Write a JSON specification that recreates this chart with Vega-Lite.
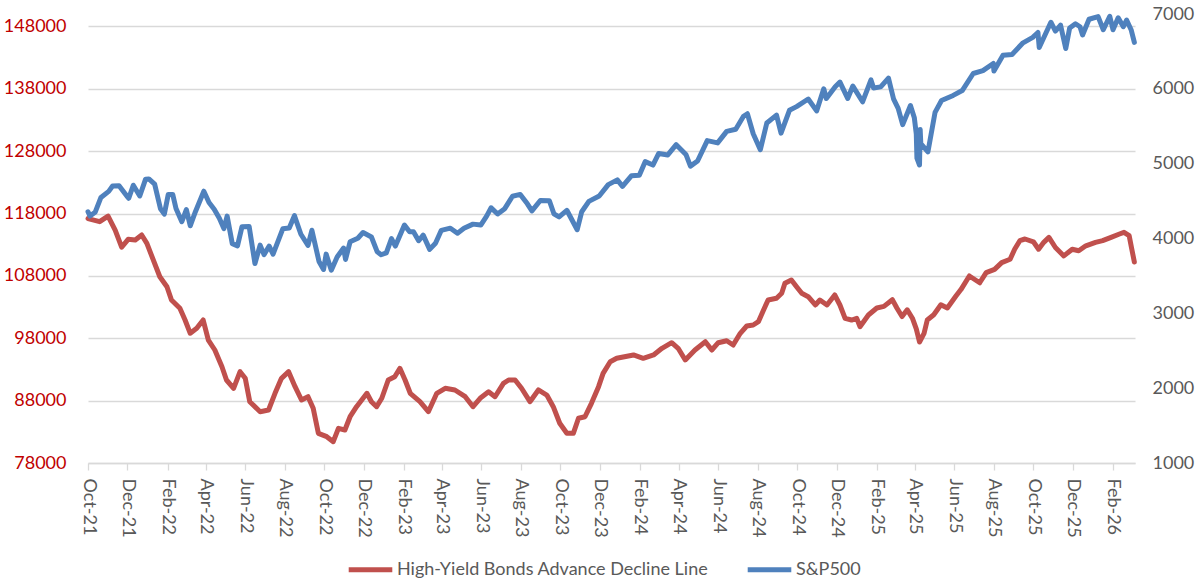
{
"$schema": "https://vega.github.io/schema/vega-lite/v6.json",
"width": 1047, "height": 449,
"autosize": {"type": "none"},
"padding": {"left": 88, "top": 14, "right": 65, "bottom": 122},
"background": "white",
"config": {"view": {"stroke": null}, "font": "Lato"},
"datasets": {
"hy": [
{"date":"2021-10-01","series":"HY","value":117200},
{"date":"2021-10-19","series":"HY","value":116700},
{"date":"2021-11-01","series":"HY","value":117600},
{"date":"2021-11-12","series":"HY","value":115360},
{"date":"2021-11-22","series":"HY","value":112600},
{"date":"2021-12-02","series":"HY","value":113870},
{"date":"2021-12-13","series":"HY","value":113760},
{"date":"2021-12-23","series":"HY","value":114560},
{"date":"2021-12-31","series":"HY","value":113230},
{"date":"2022-01-07","series":"HY","value":111350},
{"date":"2022-01-20","series":"HY","value":107870},
{"date":"2022-01-31","series":"HY","value":106270},
{"date":"2022-02-07","series":"HY","value":104140},
{"date":"2022-02-20","series":"HY","value":102810},
{"date":"2022-02-28","series":"HY","value":100930},
{"date":"2022-03-08","series":"HY","value":98800},
{"date":"2022-03-18","series":"HY","value":99600},
{"date":"2022-03-28","series":"HY","value":100930},
{"date":"2022-04-05","series":"HY","value":97720},
{"date":"2022-04-15","series":"HY","value":96120},
{"date":"2022-04-26","series":"HY","value":93440},
{"date":"2022-05-03","series":"HY","value":91310},
{"date":"2022-05-14","series":"HY","value":89980},
{"date":"2022-05-24","series":"HY","value":92640},
{"date":"2022-06-01","series":"HY","value":91580},
{"date":"2022-06-08","series":"HY","value":87830},
{"date":"2022-06-24","series":"HY","value":86230},
{"date":"2022-07-07","series":"HY","value":86500},
{"date":"2022-07-17","series":"HY","value":89180},
{"date":"2022-07-27","series":"HY","value":91580},
{"date":"2022-08-07","series":"HY","value":92640},
{"date":"2022-08-17","series":"HY","value":90240},
{"date":"2022-08-27","series":"HY","value":88100},
{"date":"2022-09-06","series":"HY","value":88630},
{"date":"2022-09-14","series":"HY","value":86770},
{"date":"2022-09-22","series":"HY","value":82760},
{"date":"2022-10-05","series":"HY","value":82220},
{"date":"2022-10-15","series":"HY","value":81420},
{"date":"2022-10-23","series":"HY","value":83560},
{"date":"2022-11-02","series":"HY","value":83290},
{"date":"2022-11-10","series":"HY","value":85420},
{"date":"2022-11-20","series":"HY","value":87030},
{"date":"2022-11-28","series":"HY","value":88100},
{"date":"2022-12-06","series":"HY","value":89180},
{"date":"2022-12-13","series":"HY","value":87830},
{"date":"2022-12-21","series":"HY","value":87030},
{"date":"2022-12-29","series":"HY","value":88380},
{"date":"2023-01-08","series":"HY","value":91310},
{"date":"2023-01-18","series":"HY","value":91840},
{"date":"2023-01-26","series":"HY","value":93190},
{"date":"2023-02-03","series":"HY","value":91310},
{"date":"2023-02-11","series":"HY","value":89180},
{"date":"2023-02-26","series":"HY","value":87830},
{"date":"2023-03-11","series":"HY","value":86230},
{"date":"2023-03-24","series":"HY","value":89180},
{"date":"2023-04-06","series":"HY","value":89980},
{"date":"2023-04-21","series":"HY","value":89710},
{"date":"2023-05-07","series":"HY","value":88630},
{"date":"2023-05-19","series":"HY","value":87030},
{"date":"2023-05-30","series":"HY","value":88380},
{"date":"2023-06-12","series":"HY","value":89430},
{"date":"2023-06-22","series":"HY","value":88630},
{"date":"2023-07-05","series":"HY","value":90780},
{"date":"2023-07-13","series":"HY","value":91310},
{"date":"2023-07-23","series":"HY","value":91310},
{"date":"2023-08-02","series":"HY","value":89980},
{"date":"2023-08-15","series":"HY","value":87830},
{"date":"2023-08-28","series":"HY","value":89710},
{"date":"2023-09-10","series":"HY","value":88900},
{"date":"2023-09-20","series":"HY","value":87030},
{"date":"2023-09-30","series":"HY","value":84370},
{"date":"2023-10-11","series":"HY","value":82760},
{"date":"2023-10-21","series":"HY","value":82760},
{"date":"2023-10-29","series":"HY","value":85170},
{"date":"2023-11-08","series":"HY","value":85420},
{"date":"2023-11-18","series":"HY","value":87570},
{"date":"2023-11-29","series":"HY","value":90240},
{"date":"2023-12-06","series":"HY","value":92380},
{"date":"2023-12-17","series":"HY","value":94240},
{"date":"2023-12-27","series":"HY","value":94790},
{"date":"2024-01-22","series":"HY","value":95320},
{"date":"2024-02-06","series":"HY","value":94790},
{"date":"2024-02-22","series":"HY","value":95320},
{"date":"2024-03-06","series":"HY","value":96390},
{"date":"2024-03-21","series":"HY","value":97290},
{"date":"2024-03-31","series":"HY","value":96390},
{"date":"2024-04-11","series":"HY","value":94520},
{"date":"2024-04-26","series":"HY","value":96120},
{"date":"2024-05-12","series":"HY","value":97450},
{"date":"2024-05-22","series":"HY","value":96120},
{"date":"2024-06-01","series":"HY","value":97290},
{"date":"2024-06-14","series":"HY","value":97610},
{"date":"2024-06-24","series":"HY","value":96920},
{"date":"2024-07-05","series":"HY","value":98800},
{"date":"2024-07-15","series":"HY","value":99970},
{"date":"2024-07-25","series":"HY","value":100130},
{"date":"2024-08-02","series":"HY","value":100660},
{"date":"2024-08-10","series":"HY","value":102540},
{"date":"2024-08-17","series":"HY","value":104140},
{"date":"2024-08-30","series":"HY","value":104410},
{"date":"2024-09-07","series":"HY","value":105210},
{"date":"2024-09-12","series":"HY","value":106820},
{"date":"2024-09-22","series":"HY","value":107350},
{"date":"2024-09-30","series":"HY","value":106270},
{"date":"2024-10-08","series":"HY","value":105210},
{"date":"2024-10-18","series":"HY","value":104670},
{"date":"2024-10-29","series":"HY","value":103340},
{"date":"2024-11-05","series":"HY","value":104140},
{"date":"2024-11-16","series":"HY","value":103340},
{"date":"2024-11-28","series":"HY","value":104940},
{"date":"2024-12-06","series":"HY","value":103340},
{"date":"2024-12-14","series":"HY","value":101200},
{"date":"2024-12-24","series":"HY","value":100930},
{"date":"2025-01-01","series":"HY","value":101200},
{"date":"2025-01-06","series":"HY","value":99860},
{"date":"2025-01-19","series":"HY","value":101730},
{"date":"2025-02-01","series":"HY","value":102860},
{"date":"2025-02-12","series":"HY","value":103110},
{"date":"2025-02-25","series":"HY","value":104190},
{"date":"2025-03-04","series":"HY","value":102860},
{"date":"2025-03-12","series":"HY","value":101490},
{"date":"2025-03-20","series":"HY","value":102570},
{"date":"2025-03-28","series":"HY","value":101220},
{"date":"2025-04-03","series":"HY","value":99500},
{"date":"2025-04-08","series":"HY","value":97400},
{"date":"2025-04-15","series":"HY","value":98800},
{"date":"2025-04-20","series":"HY","value":100930},
{"date":"2025-04-30","series":"HY","value":101770},
{"date":"2025-05-11","series":"HY","value":103380},
{"date":"2025-05-21","series":"HY","value":102860},
{"date":"2025-06-03","series":"HY","value":104730},
{"date":"2025-06-11","series":"HY","value":105810},
{"date":"2025-06-24","series":"HY","value":107990},
{"date":"2025-07-10","series":"HY","value":106900},
{"date":"2025-07-20","series":"HY","value":108520},
{"date":"2025-08-02","series":"HY","value":109050},
{"date":"2025-08-13","series":"HY","value":110140},
{"date":"2025-08-26","series":"HY","value":110670},
{"date":"2025-09-02","series":"HY","value":112280},
{"date":"2025-09-10","series":"HY","value":113650},
{"date":"2025-09-18","series":"HY","value":113920},
{"date":"2025-10-01","series":"HY","value":113470},
{"date":"2025-10-09","series":"HY","value":112280},
{"date":"2025-10-17","series":"HY","value":113380},
{"date":"2025-10-25","series":"HY","value":114180},
{"date":"2025-11-04","series":"HY","value":112560},
{"date":"2025-11-17","series":"HY","value":111210},
{"date":"2025-11-30","series":"HY","value":112280},
{"date":"2025-12-10","series":"HY","value":112030},
{"date":"2025-12-21","series":"HY","value":112830},
{"date":"2026-01-05","series":"HY","value":113380},
{"date":"2026-01-16","series":"HY","value":113650},
{"date":"2026-01-29","series":"HY","value":114180},
{"date":"2026-02-11","series":"HY","value":114720},
{"date":"2026-02-18","series":"HY","value":114990},
{"date":"2026-02-26","series":"HY","value":114450},
{"date":"2026-03-02","series":"HY","value":112320},
{"date":"2026-03-06","series":"HY","value":110230}
],
"spx": [
{"date":"2021-10-01","series":"SPX","value":4357},
{"date":"2021-10-04","series":"SPX","value":4300},
{"date":"2021-10-12","series":"SPX","value":4350},
{"date":"2021-10-21","series":"SPX","value":4549},
{"date":"2021-11-02","series":"SPX","value":4630},
{"date":"2021-11-08","series":"SPX","value":4701},
{"date":"2021-11-18","series":"SPX","value":4704},
{"date":"2021-11-30","series":"SPX","value":4567},
{"date":"2021-12-03","series":"SPX","value":4538},
{"date":"2021-12-10","series":"SPX","value":4712},
{"date":"2021-12-20","series":"SPX","value":4568},
{"date":"2021-12-29","series":"SPX","value":4793},
{"date":"2022-01-03","series":"SPX","value":4796},
{"date":"2022-01-12","series":"SPX","value":4726},
{"date":"2022-01-21","series":"SPX","value":4398},
{"date":"2022-01-27","series":"SPX","value":4326},
{"date":"2022-02-02","series":"SPX","value":4589},
{"date":"2022-02-09","series":"SPX","value":4587},
{"date":"2022-02-14","series":"SPX","value":4401},
{"date":"2022-02-23","series":"SPX","value":4225},
{"date":"2022-03-02","series":"SPX","value":4386},
{"date":"2022-03-08","series":"SPX","value":4170},
{"date":"2022-03-16","series":"SPX","value":4358},
{"date":"2022-03-29","series":"SPX","value":4632},
{"date":"2022-04-06","series":"SPX","value":4481},
{"date":"2022-04-14","series":"SPX","value":4392},
{"date":"2022-04-22","series":"SPX","value":4272},
{"date":"2022-04-29","series":"SPX","value":4132},
{"date":"2022-05-04","series":"SPX","value":4300},
{"date":"2022-05-12","series":"SPX","value":3930},
{"date":"2022-05-20","series":"SPX","value":3901},
{"date":"2022-05-27","series":"SPX","value":4158},
{"date":"2022-06-07","series":"SPX","value":4161},
{"date":"2022-06-16","series":"SPX","value":3666},
{"date":"2022-06-24","series":"SPX","value":3912},
{"date":"2022-06-30","series":"SPX","value":3785},
{"date":"2022-07-08","series":"SPX","value":3899},
{"date":"2022-07-14","series":"SPX","value":3790},
{"date":"2022-07-29","series":"SPX","value":4130},
{"date":"2022-08-08","series":"SPX","value":4140},
{"date":"2022-08-16","series":"SPX","value":4305},
{"date":"2022-08-26","series":"SPX","value":4057},
{"date":"2022-09-06","series":"SPX","value":3908},
{"date":"2022-09-12","series":"SPX","value":4110},
{"date":"2022-09-23","series":"SPX","value":3693},
{"date":"2022-09-30","series":"SPX","value":3586},
{"date":"2022-10-04","series":"SPX","value":3791},
{"date":"2022-10-12","series":"SPX","value":3577},
{"date":"2022-10-21","series":"SPX","value":3752},
{"date":"2022-10-31","series":"SPX","value":3872},
{"date":"2022-11-03","series":"SPX","value":3720},
{"date":"2022-11-10","series":"SPX","value":3956},
{"date":"2022-11-22","series":"SPX","value":4003},
{"date":"2022-11-30","series":"SPX","value":4080},
{"date":"2022-12-13","series":"SPX","value":4020},
{"date":"2022-12-22","series":"SPX","value":3822},
{"date":"2022-12-28","series":"SPX","value":3783},
{"date":"2023-01-05","series":"SPX","value":3808},
{"date":"2023-01-13","series":"SPX","value":3999},
{"date":"2023-01-19","series":"SPX","value":3899},
{"date":"2023-02-02","series":"SPX","value":4179},
{"date":"2023-02-10","series":"SPX","value":4090},
{"date":"2023-02-16","series":"SPX","value":4090},
{"date":"2023-02-24","series":"SPX","value":3970},
{"date":"2023-03-03","series":"SPX","value":4045},
{"date":"2023-03-13","series":"SPX","value":3855},
{"date":"2023-03-22","series":"SPX","value":3937},
{"date":"2023-03-31","series":"SPX","value":4109},
{"date":"2023-04-14","series":"SPX","value":4138},
{"date":"2023-04-25","series":"SPX","value":4071},
{"date":"2023-05-05","series":"SPX","value":4136},
{"date":"2023-05-19","series":"SPX","value":4192},
{"date":"2023-05-31","series":"SPX","value":4180},
{"date":"2023-06-09","series":"SPX","value":4299},
{"date":"2023-06-16","series":"SPX","value":4410},
{"date":"2023-06-26","series":"SPX","value":4328},
{"date":"2023-07-07","series":"SPX","value":4399},
{"date":"2023-07-19","series":"SPX","value":4565},
{"date":"2023-07-31","series":"SPX","value":4589},
{"date":"2023-08-11","series":"SPX","value":4464},
{"date":"2023-08-18","series":"SPX","value":4370},
{"date":"2023-08-31","series":"SPX","value":4508},
{"date":"2023-09-14","series":"SPX","value":4505},
{"date":"2023-09-21","series":"SPX","value":4330},
{"date":"2023-09-29","series":"SPX","value":4288},
{"date":"2023-10-11","series":"SPX","value":4377},
{"date":"2023-10-27","series":"SPX","value":4117},
{"date":"2023-11-03","series":"SPX","value":4358},
{"date":"2023-11-14","series":"SPX","value":4496},
{"date":"2023-11-30","series":"SPX","value":4568},
{"date":"2023-12-14","series":"SPX","value":4720},
{"date":"2023-12-28","series":"SPX","value":4783},
{"date":"2024-01-05","series":"SPX","value":4697},
{"date":"2024-01-19","series":"SPX","value":4840},
{"date":"2024-01-31","series":"SPX","value":4846},
{"date":"2024-02-09","series":"SPX","value":5027},
{"date":"2024-02-21","series":"SPX","value":4981},
{"date":"2024-03-01","series":"SPX","value":5137},
{"date":"2024-03-15","series":"SPX","value":5117},
{"date":"2024-03-28","series":"SPX","value":5254},
{"date":"2024-04-12","series":"SPX","value":5123},
{"date":"2024-04-19","series":"SPX","value":4967},
{"date":"2024-04-30","series":"SPX","value":5036},
{"date":"2024-05-15","series":"SPX","value":5308},
{"date":"2024-05-31","series":"SPX","value":5278},
{"date":"2024-06-14","series":"SPX","value":5432},
{"date":"2024-06-28","series":"SPX","value":5460},
{"date":"2024-07-10","series":"SPX","value":5633},
{"date":"2024-07-16","series":"SPX","value":5667},
{"date":"2024-07-25","series":"SPX","value":5400},
{"date":"2024-08-05","series":"SPX","value":5186},
{"date":"2024-08-15","series":"SPX","value":5543},
{"date":"2024-08-30","series":"SPX","value":5648},
{"date":"2024-09-06","series":"SPX","value":5408},
{"date":"2024-09-19","series":"SPX","value":5713},
{"date":"2024-09-30","series":"SPX","value":5762},
{"date":"2024-10-18","series":"SPX","value":5864},
{"date":"2024-10-31","series":"SPX","value":5705},
{"date":"2024-11-11","series":"SPX","value":6001},
{"date":"2024-11-15","series":"SPX","value":5870},
{"date":"2024-11-29","series":"SPX","value":6032},
{"date":"2024-12-06","series":"SPX","value":6090},
{"date":"2024-12-18","series":"SPX","value":5872},
{"date":"2024-12-26","series":"SPX","value":6037},
{"date":"2025-01-10","series":"SPX","value":5827},
{"date":"2025-01-23","series":"SPX","value":6119},
{"date":"2025-01-27","series":"SPX","value":6012},
{"date":"2025-02-07","series":"SPX","value":6026},
{"date":"2025-02-19","series":"SPX","value":6144},
{"date":"2025-02-27","series":"SPX","value":5861},
{"date":"2025-03-06","series":"SPX","value":5739},
{"date":"2025-03-13","series":"SPX","value":5522},
{"date":"2025-03-25","series":"SPX","value":5777},
{"date":"2025-03-31","series":"SPX","value":5612},
{"date":"2025-04-03","series":"SPX","value":5397},
{"date":"2025-04-04","series":"SPX","value":5074},
{"date":"2025-04-08","series":"SPX","value":4982},
{"date":"2025-04-09","series":"SPX","value":5457},
{"date":"2025-04-10","series":"SPX","value":5268},
{"date":"2025-04-21","series":"SPX","value":5158},
{"date":"2025-05-02","series":"SPX","value":5686},
{"date":"2025-05-12","series":"SPX","value":5844},
{"date":"2025-05-30","series":"SPX","value":5912},
{"date":"2025-06-13","series":"SPX","value":5977},
{"date":"2025-06-30","series":"SPX","value":6205},
{"date":"2025-07-15","series":"SPX","value":6244},
{"date":"2025-07-31","series":"SPX","value":6339},
{"date":"2025-08-01","series":"SPX","value":6238},
{"date":"2025-08-15","series":"SPX","value":6450},
{"date":"2025-08-29","series":"SPX","value":6460},
{"date":"2025-09-15","series":"SPX","value":6615},
{"date":"2025-09-30","series":"SPX","value":6688},
{"date":"2025-10-08","series":"SPX","value":6753},
{"date":"2025-10-10","series":"SPX","value":6552},
{"date":"2025-10-28","series":"SPX","value":6890},
{"date":"2025-11-04","series":"SPX","value":6771},
{"date":"2025-11-12","series":"SPX","value":6850},
{"date":"2025-11-20","series":"SPX","value":6538},
{"date":"2025-11-26","series":"SPX","value":6812},
{"date":"2025-12-05","series":"SPX","value":6870},
{"date":"2025-12-12","series":"SPX","value":6830},
{"date":"2025-12-16","series":"SPX","value":6720},
{"date":"2025-12-26","series":"SPX","value":6930},
{"date":"2026-01-09","series":"SPX","value":6966},
{"date":"2026-01-17","series":"SPX","value":6790},
{"date":"2026-01-27","series":"SPX","value":6970},
{"date":"2026-02-01","series":"SPX","value":6790},
{"date":"2026-02-09","series":"SPX","value":6950},
{"date":"2026-02-17","series":"SPX","value":6830},
{"date":"2026-02-22","series":"SPX","value":6920},
{"date":"2026-03-01","series":"SPX","value":6790},
{"date":"2026-03-06","series":"SPX","value":6620}
]
},
"layer": [
{
"data": {"name": "hy"},
"mark": {"type": "line", "strokeWidth": 5, "strokeJoin": "round", "strokeCap": "round"},
"encoding": {
"x": {"field": "date", "type": "temporal",
  "scale": {"type": "utc", "domain": [{"year":2021,"month":10,"date":1,"utc":true},{"year":2026,"month":3,"date":7,"utc":true}]},
  "axis": {"title": null, "grid": false,
    "values": [
      {"year":2021,"month":10,"date":1,"utc":true},{"year":2021,"month":12,"date":1,"utc":true},
      {"year":2022,"month":2,"date":1,"utc":true},{"year":2022,"month":4,"date":1,"utc":true},{"year":2022,"month":6,"date":1,"utc":true},{"year":2022,"month":8,"date":1,"utc":true},{"year":2022,"month":10,"date":1,"utc":true},{"year":2022,"month":12,"date":1,"utc":true},
      {"year":2023,"month":2,"date":1,"utc":true},{"year":2023,"month":4,"date":1,"utc":true},{"year":2023,"month":6,"date":1,"utc":true},{"year":2023,"month":8,"date":1,"utc":true},{"year":2023,"month":10,"date":1,"utc":true},{"year":2023,"month":12,"date":1,"utc":true},
      {"year":2024,"month":2,"date":1,"utc":true},{"year":2024,"month":4,"date":1,"utc":true},{"year":2024,"month":6,"date":1,"utc":true},{"year":2024,"month":8,"date":1,"utc":true},{"year":2024,"month":10,"date":1,"utc":true},{"year":2024,"month":12,"date":1,"utc":true},
      {"year":2025,"month":2,"date":1,"utc":true},{"year":2025,"month":4,"date":1,"utc":true},{"year":2025,"month":6,"date":1,"utc":true},{"year":2025,"month":8,"date":1,"utc":true},{"year":2025,"month":10,"date":1,"utc":true},{"year":2025,"month":12,"date":1,"utc":true},
      {"year":2026,"month":2,"date":1,"utc":true}
    ],
    "labelExpr": "utcFormat(datum.value, '%b-%y')",
    "labelAngle": 90, "labelAlign": "left", "labelBaseline": "middle",
    "labelColor": "#595959", "labelFontSize": 18, "labelPadding": 8,
    "domainColor": "#D9D9D9", "domainWidth": 1.3,
    "tickColor": "#D9D9D9", "tickSize": 7, "tickWidth": 1.3}},
"y": {"field": "value", "type": "quantitative",
  "scale": {"domain": [78000, 150000], "nice": false, "zero": false},
  "axis": {"orient": "left", "title": null, "values": [78000,88000,98000,108000,118000,128000,138000,148000],
    "format": "d", "labelColor": "#C00000", "labelFontSize": 18, "labelPadding": 22,
    "domain": false, "ticks": false, "grid": true, "gridColor": "#D9D9D9", "gridWidth": 1.3}},
"color": {"field": "series", "type": "nominal",
  "scale": {"domain": ["HY", "SPX"], "range": ["#C0504D", "#4F81BD"]},
  "legend": {"orient": "none", "legendX": 258, "legendY": 531, "direction": "horizontal", "title": null,
    "symbolType": "stroke", "symbolStrokeWidth": 5, "symbolSize": 1900,
    "labelFontSize": 18, "labelColor": "#595959", "columnPadding": 28, "labelOffset": 2, "labelLimit": 500,
    "labelExpr": "datum.label == 'HY' ? 'High-Yield Bonds Advance Decline Line' : 'S&P500'"}}
}
},
{
"data": {"name": "spx"},
"mark": {"type": "line", "strokeWidth": 5, "strokeJoin": "round", "strokeCap": "round"},
"encoding": {
"x": {"field": "date", "type": "temporal"},
"y": {"field": "value", "type": "quantitative",
  "scale": {"domain": [1000, 7000], "nice": false, "zero": false},
  "axis": {"orient": "right", "title": null, "values": [1000,2000,3000,4000,5000,6000,7000],
    "format": "d", "labelColor": "#595959", "labelFontSize": 18, "labelPadding": 17,
    "domain": false, "ticks": false, "grid": false}},
"color": {"field": "series", "type": "nominal"}
}
}
],
"resolve": {"scale": {"y": "independent"}}
}
